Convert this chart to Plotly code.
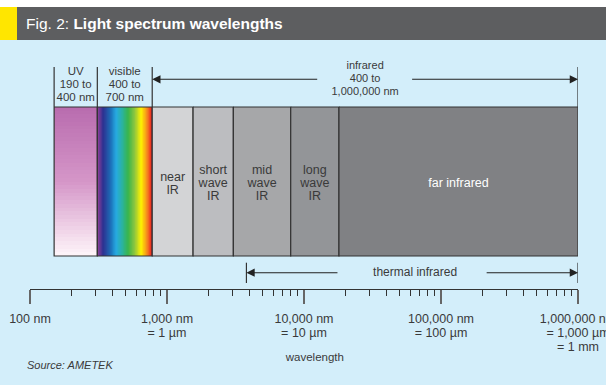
import numpy as np
import plotly.graph_objects as go

W, H = 606, 385
FONT = "Liberation Sans, Arial, sans-serif"
TXT = "#3a3a3a"

# band edges along the wavelength axis (nm)
band_edges = [150, 310, 780, 1550, 3050, 8000, 18000, 1000000]
band_names = ["UV", "visible", "near IR", "short wave IR", "mid wave IR", "long wave IR", "far infrared"]
band_colors = [None, None, "#d3d4d6", "#bcbdc0", "#a6a7a9", "#939598", "#808184"]
band_labels = [None, None, ["near", "IR"], ["short", "wave", "IR"], ["mid", "wave", "IR"],
               ["long", "wave", "IR"], ["far infrared"]]
band_label_colors = [None, None, TXT, TXT, TXT, TXT, "white"]

top_labels = [["UV", "190 to", "400 nm"], ["visible", "400 to", "700 nm"]]
infrared_label = ["infrared", "400 to", "1,000,000 nm"]
infrared_gap = [12800, 60000]
thermal_start = 3800
thermal_gap = [18000, 210000]
wavelength_label_x = 12000

rainbow = ["#8e3f97", "#2e3192", "#1c6fb8", "#27aae1", "#2bb3a3", "#39b54a",
           "#8dc63f", "#fff200", "#f7941d", "#ed1c24"]
rainbow_pos = [0.0, 0.1, 0.24, 0.34, 0.45, 0.56, 0.68, 0.8, 0.9, 1.0]
uv_colors = ["#b96daf", "#d596c8", "#fdf3f8"]

tick_vals = [100, 1000, 10000, 100000, 1000000]
tick_text = [["100 nm"], ["1,000 nm", "= 1 µm"], ["10,000 nm", "= 10 µm"],
             ["100,000 nm", "= 100 µm"], ["1,000,000 nm", "= 1,000 µm", "= 1 mm"]]
minor_vals = [m * 10 ** e for e in range(2, 6) for m in range(2, 10)]

# vertical layout (pixel rows, y axis runs top to bottom)
BAND_TOP, BAND_BOT = 107, 256
TOP_Y, ARROW_Y = 67, 79.3
THERM_Y, THERM_TOP, THERM_BOT = 272.7, 262.7, 283
AXIS_Y = 289

fig = go.Figure()


def text_block(x, y, lines, size, color, step, anchor="middle"):
    n = len(lines)
    y0 = y - step * (n - 1) / 2 if anchor == "middle" else y
    fig.add_trace(go.Scatter(
        x=[x] * n, y=[y0 + i * step for i in range(n)], mode="text", text=lines,
        textfont=dict(size=size, color=color, family=FONT), textposition="middle center",
        showlegend=False, hoverinfo="skip", cliponaxis=False))


def arrow(tip, tail, y):
    fig.add_annotation(x=np.log10(tip), y=y, ax=np.log10(tail), ay=y, xref="x", yref="y",
                       axref="x", ayref="y", text="", showarrow=True, arrowhead=2,
                       arrowsize=1.5, arrowwidth=1.1, arrowcolor="#222", standoff=0)


# UV: vertical gradient
n_uv = 40
fig.add_trace(go.Heatmap(
    x=band_edges[0:2], y=np.linspace(BAND_TOP, BAND_BOT, n_uv + 1),
    z=[[v] for v in np.linspace(0, 1, n_uv)],
    colorscale=[[0, uv_colors[0]], [0.5, uv_colors[1]], [1, uv_colors[2]]],
    showscale=False, hoverinfo="skip"))

# visible: horizontal rainbow
n_vis = 90
fig.add_trace(go.Heatmap(
    x=np.geomspace(band_edges[1], band_edges[2], n_vis + 1), y=[BAND_TOP, BAND_BOT],
    z=[np.linspace(0, 1, n_vis)],
    colorscale=[[p, c] for p, c in zip(rainbow_pos, rainbow)],
    showscale=False, hoverinfo="skip"))

# band rectangles
for i, name in enumerate(band_names):
    a, b = band_edges[i], band_edges[i + 1]
    fig.add_trace(go.Scatter(
        x=[a, b, b, a, a], y=[BAND_TOP, BAND_TOP, BAND_BOT, BAND_BOT, BAND_TOP],
        mode="lines", fill="toself" if band_colors[i] else "none",
        fillcolor=band_colors[i] or "rgba(0,0,0,0)",
        line=dict(color="#333", width=1.2), name=name, showlegend=False, hoverinfo="skip"))
    if band_labels[i]:
        text_block(np.sqrt(a * b), 184, band_labels[i], 12.5, band_label_colors[i], 13)

# boundary lines above the bar
vx, vy = [], []
for v in band_edges[0:3] + [band_edges[-1]]:
    vx += [v, v, None]
    vy += [TOP_Y, BAND_TOP, None]
for v in [thermal_start, band_edges[-1]]:
    vx += [v, v, None]
    vy += [THERM_TOP, THERM_BOT, None]
fig.add_trace(go.Scatter(x=vx, y=vy, mode="lines", line=dict(color="#333", width=1.2),
                         showlegend=False, hoverinfo="skip", cliponaxis=False))

for i in range(2):
    text_block(np.sqrt(band_edges[i] * band_edges[i + 1]), 84.7, top_labels[i], 11.5, TXT, 13)

# infrared arrows
text_block(np.sqrt(band_edges[2] * band_edges[-1]), 79, infrared_label, 11, TXT, 12.8)
arrow(band_edges[2], infrared_gap[0], ARROW_Y)
arrow(band_edges[-1], infrared_gap[1], ARROW_Y)

# thermal infrared arrows
text_block(np.sqrt(thermal_start * band_edges[-1]) * 1.05, THERM_Y, ["thermal infrared"], 12, TXT, 13)
arrow(thermal_start, thermal_gap[0], THERM_Y)
arrow(band_edges[-1], thermal_gap[1], THERM_Y)

# tick labels
for v, lines in zip(tick_vals, tick_text):
    text_block(v, 320, lines, 12.5, TXT, 13.8, anchor="top")
text_block(wavelength_label_x, 358, ["wavelength"], 11.5, TXT, 13)

fig.add_annotation(x=25 / W, y=365, xref="paper", yref="y", xanchor="left", yanchor="middle",
                   text="<i>Source: AMETEK</i>", showarrow=False,
                   font=dict(size=11, color=TXT, family=FONT))
fig.add_annotation(x=24 / W, y=23.5, xref="paper", yref="y", xanchor="left", yanchor="middle",
                   text="Fig. 2: <b>Light spectrum wavelengths</b>", showarrow=False,
                   font=dict(size=15.5, color="white", family=FONT))

# background panel + title bar
fig.add_shape(type="rect", xref="paper", yref="y", x0=0, x1=1, y0=40, y1=H,
              fillcolor="#d3eefa", line_width=0, layer="below")
fig.add_shape(type="rect", xref="paper", yref="y", x0=0, x1=1, y0=7, y1=40,
              fillcolor="#5d5e60", line_width=0, layer="below")
fig.add_shape(type="rect", xref="paper", yref="y", x0=0, x1=17 / W, y0=7, y1=40,
              fillcolor="#ffe600", line_width=0, layer="below")

fig.update_layout(
    width=W, height=H, margin=dict(l=0, r=0, t=0, b=0),
    paper_bgcolor="white", plot_bgcolor="rgba(0,0,0,0)", showlegend=False,
    xaxis=dict(type="log", range=[2, 6], domain=[30 / W, 578 / W], anchor="free",
               position=1 - AXIS_Y / H, showline=True, linecolor="#333", linewidth=1.3,
               ticks="outside", ticklen=14, tickwidth=1.5, tickcolor="#666",
               tickmode="array", tickvals=tick_vals, showticklabels=False,
               showgrid=False, zeroline=False,
               minor=dict(ticks="outside", ticklen=6, tickwidth=1.1, tickcolor="#333",
                          tickmode="array", tickvals=minor_vals, showgrid=False)),
    yaxis=dict(range=[H, 0], domain=[0, 1], visible=False, fixedrange=True),
)

fig.write_html("out.html", config={"displayModeBar": False},
               post_script="document.body.style.margin='0';"
               "document.body.style.overflow='hidden';")
